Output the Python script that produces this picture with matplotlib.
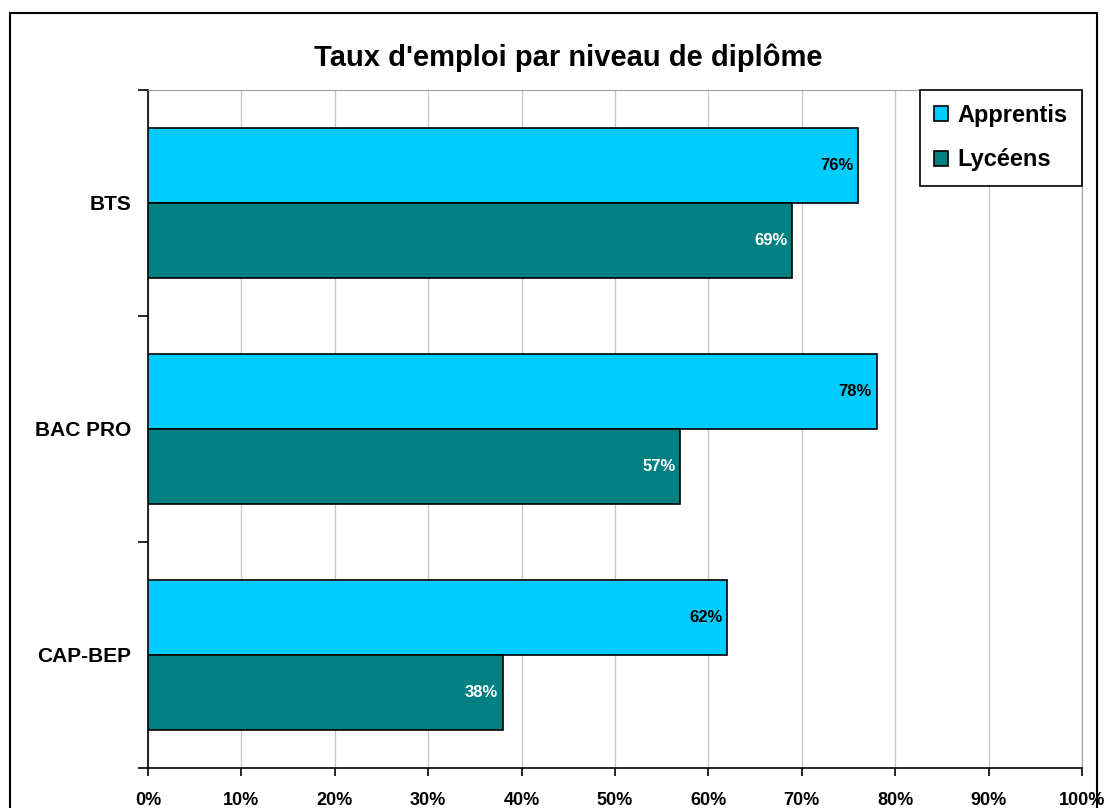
import matplotlib.pyplot as plt
from matplotlib.patches import Rectangle
import numpy as np

plt.rcParams['font.family'] = ['Liberation Sans', 'DejaVu Sans']

categories = ["CAP-BEP", "BAC PRO", "BTS"]
apprentis = [62, 78, 76]
lyceens = [38, 57, 69]
xticks = [0, 10, 20, 30, 40, 50, 60, 70, 80, 90, 100]

fig = plt.figure(figsize=(11.07, 8.08), dpi=100)
ax = fig.add_axes([148/1107, 40/808, (1082-148)/1107, (768-90)/808])

# outer frame of the chart
fig.patches.append(Rectangle((10/1107, -0.05), 1087/1107, 1.05 - 13/808,
                             transform=fig.transFigure, fill=False,
                             edgecolor='black', lw=1.5))

y = np.arange(len(categories))
h = 1/3
b1 = ax.barh(y + h/2, apprentis, height=h, color='#00CCFF', edgecolor='black',
             lw=1.2, label='Apprentis', zorder=3)
b2 = ax.barh(y - h/2, lyceens, height=h, color='#008080', edgecolor='black',
             lw=1.2, label='Lycéens', zorder=3)

for bar, v in zip(b1, apprentis):
    ax.text(v - 0.5, bar.get_y() + bar.get_height()/2, f"{v}%", ha='right',
            va='center', fontsize=12, fontweight='bold', color='black', zorder=4)
for bar, v in zip(b2, lyceens):
    ax.text(v - 0.5, bar.get_y() + bar.get_height()/2, f"{v}%", ha='right',
            va='center', fontsize=12, fontweight='bold', color='white', zorder=4)

ax.set_xlim(0, 100)
ax.set_ylim(-0.5, len(categories) - 0.5)
ax.set_xticks(xticks)
ax.set_xticklabels([f"{t}%" for t in xticks], fontsize=13, fontweight='bold')
ax.set_yticks([-0.5, 0.5, 1.5, 2.5])
ax.set_yticklabels([])
ax.set_yticks(y, minor=True)
ax.set_yticklabels(categories, minor=True, fontsize=15, fontweight='bold')
ax.tick_params(axis='y', which='minor', length=0, pad=12)
ax.tick_params(axis='y', which='major', length=7, width=1.2)
ax.tick_params(axis='x', length=6, width=1.2, pad=11)
ax.grid(axis='x', color='#C8C8C8', lw=1, zorder=0)
ax.spines['top'].set_color('#A0A0A0')
ax.spines['right'].set_color('#A0A0A0')
ax.spines['left'].set_linewidth(1.2)
ax.spines['bottom'].set_linewidth(1.2)

fig.text(568/1107, 1 - 58/808, "Taux d'emploi par niveau de diplôme",
         ha='center', va='center', fontsize=21, fontweight='bold')

leg = ax.legend(loc='upper right', bbox_to_anchor=(1, 1), borderaxespad=0,
                fancybox=False, edgecolor='black', framealpha=1,
                prop={'size': 17, 'weight': 'bold'}, handlelength=0.6,
                handleheight=0.6, handletextpad=0.4, labelspacing=0.9,
                borderpad=0.6)
leg.get_frame().set_linewidth(1.2)

fig.savefig('out.png', dpi=100)
